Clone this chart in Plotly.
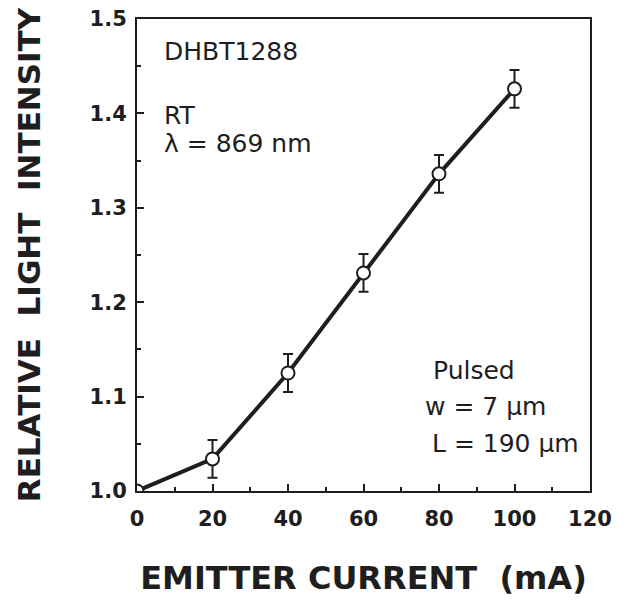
import plotly.graph_objects as go

current_mA = [0, 20, 40, 60, 80, 100]
intensity = [1.0, 1.034, 1.125, 1.231, 1.336, 1.426]
error = [0, 0.02, 0.02, 0.02, 0.02, 0.02]

x_ticks = [0, 20, 40, 60, 80, 100, 120]
y_ticks = [1.0, 1.1, 1.2, 1.3, 1.4, 1.5]

ink = "#1e1e1e"
bold_font = "DejaVu Sans, Liberation Sans, Arial, sans-serif"
text_font = "DejaVu Sans, Liberation Sans, Arial, sans-serif"

fig = go.Figure()
fig.add_trace(go.Scatter(
    x=current_mA, y=intensity,
    mode="lines+markers",
    line=dict(color=ink, width=4),
    marker=dict(symbol="circle", size=13, color="white", line=dict(color=ink, width=2)),
    error_y=dict(type="data", array=error, visible=True, color=ink, thickness=2, width=5),
    showlegend=False,
))

axis_common = dict(
    showline=True, linecolor=ink, linewidth=2, mirror=True,
    ticks="inside", tickcolor=ink, tickwidth=2, ticklen=7,
    showgrid=False, zeroline=False, automargin=False,
    ticklabeloverflow="allow",
    tickfont=dict(family=bold_font, size=21, color=ink, weight="bold"),
)

fig.update_xaxes(
    range=[0, 120], tickvals=x_ticks, ticktext=[str(v) for v in x_ticks],
    minor=dict(dtick=10, tick0=0, ticks="inside", ticklen=4, tickcolor=ink, tickwidth=2),
    ticklabelstandoff=8,
    title=dict(text="EMITTER CURRENT  (mA)", standoff=36,
               font=dict(family=bold_font, size=32, color=ink, weight="bold")),
    **axis_common,
)
fig.update_yaxes(
    range=[1.0, 1.5], tickvals=y_ticks, ticktext=[f"{v:.1f}" for v in y_ticks],
    minor=dict(dtick=0.05, tick0=1.0, ticks="inside", ticklen=4, tickcolor=ink, tickwidth=2),
    ticklabelstandoff=4,
    title=dict(text="RELATIVE  LIGHT  INTENSITY", standoff=40,
               font=dict(family=bold_font, size=31, color=ink, weight="bold")),
    **axis_common,
)

ann_font = dict(family=text_font, size=25, color=ink)
notes = [
    ("DHBT1288", 162, 51),
    ("RT", 162, 115),
    ("λ = 869 nm", 162, 143),
    ("Pulsed", 431, 370),
    ("w = 7 μm", 423, 406),
    ("L = 190 μm", 430, 443),
]
# page has an 8px body margin: positions below are in window pixels
OFF = 8
W, H = 633 - OFF, 600 - OFF
L, R, T, B = 137 - OFF, 43, 19 - OFF, 109
for text, px, py in notes:
    fig.add_annotation(
        text=text, xref="paper", yref="paper",
        x=(px - OFF - L) / (W - L - R), y=1 - (py - OFF - T) / (H - T - B),
        xanchor="left", yanchor="middle", showarrow=False, font=ann_font,
    )

fig.update_layout(
    width=W, height=H,
    margin=dict(l=L, r=R, t=T, b=B, autoexpand=False),
    paper_bgcolor="white", plot_bgcolor="white",
)

fig.write_html("out.html")
